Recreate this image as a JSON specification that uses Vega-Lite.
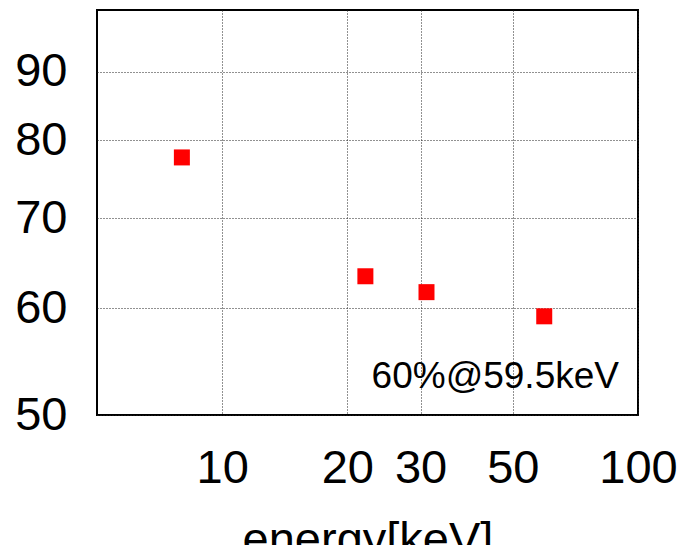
{
  "$schema": "https://vega.github.io/schema/vega-lite/v6.json",
  "autosize": {"type": "none"},
  "padding": {"left": 97, "top": 10, "right": 52, "bottom": 130},
  "width": 541,
  "height": 405,
  "background": "white",
  "config": {
    "font": "Liberation Sans",
    "view": {"stroke": "#000000", "strokeWidth": 2},
    "axis": {
      "domain": false,
      "ticks": false,
      "grid": true,
      "gridColor": "#222222",
      "gridDash": [1, 2],
      "gridWidth": 1,
      "labelFont": "Liberation Sans",
      "labelFontSize": 47,
      "labelColor": "#000000",
      "titleFont": "Liberation Sans",
      "titleFontSize": 47,
      "titleFontWeight": "normal",
      "titleColor": "#000000"
    }
  },
  "layer": [
    {
      "data": {
        "values": [
          {"energy": 8.0, "resolution": 77.7},
          {"energy": 22.1, "resolution": 63.4},
          {"energy": 31.0, "resolution": 61.7},
          {"energy": 59.5, "resolution": 59.2}
        ]
      },
      "mark": {"type": "point", "shape": "square", "filled": true, "size": 256, "color": "#ff0000", "opacity": 1},
      "encoding": {
        "x": {
          "field": "energy", "type": "quantitative",
          "scale": {"type": "log", "domain": [5, 100], "nice": false},
          "axis": {"values": [10, 20, 30, 50, 100], "labelPadding": 30, "title": "energy[keV]", "titlePadding": 26, "labelFlush": false, "format": "d"}
        },
        "y": {
          "field": "resolution", "type": "quantitative",
          "scale": {"type": "log", "domain": [50, 100], "nice": false},
          "axis": {"values": [50, 60, 70, 80, 90], "labelPadding": 30, "title": null, "labelFlush": false, "format": "d"}
        }
      }
    },
    {
      "data": {"values": [{"energy": 90, "resolution": 52.4, "label": "60%@59.5keV"}]},
      "mark": {"type": "text", "align": "right", "baseline": "alphabetic", "fontSize": 37, "font": "Liberation Sans", "color": "#000000"},
      "encoding": {
        "x": {"field": "energy", "type": "quantitative"},
        "y": {"field": "resolution", "type": "quantitative"},
        "text": {"field": "label"}
      }
    }
  ]
}
